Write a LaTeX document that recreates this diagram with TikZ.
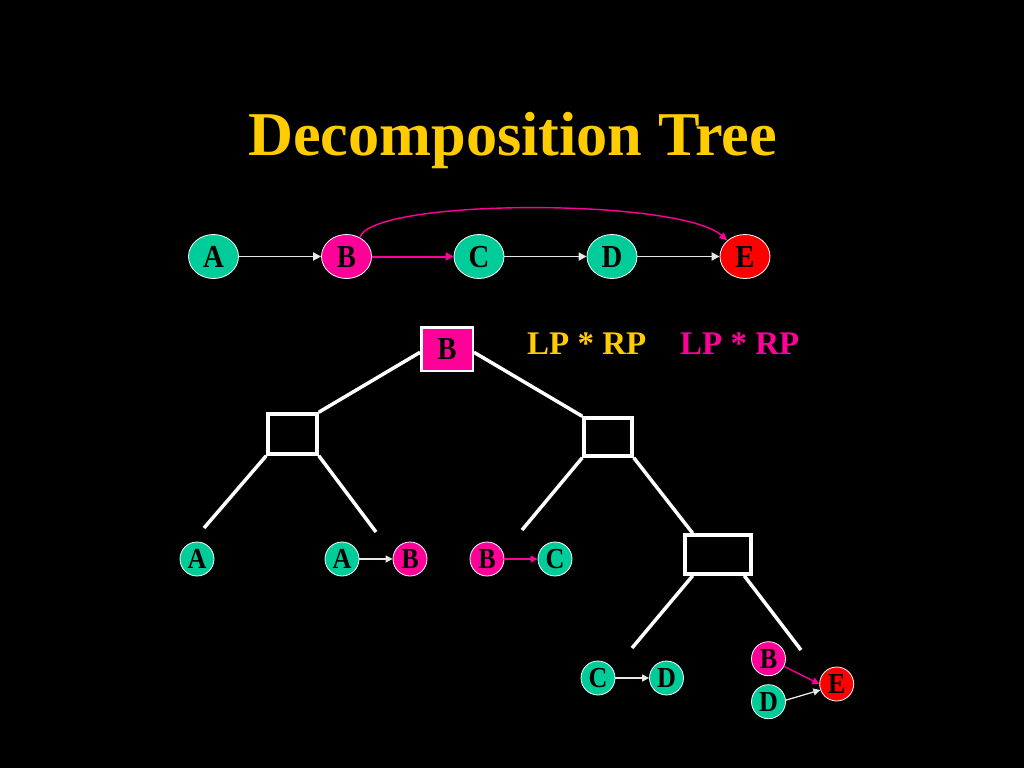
\documentclass[tikz,border=0pt]{standalone}
\usepackage{fontspec}
\setmainfont{Liberation Serif}
\newfontfamily\condserif[FakeStretch=0.9]{Liberation Serif}
\usetikzlibrary{shapes.geometric,arrows.meta}
\definecolor{tealc}{RGB}{0,204,153}
\definecolor{pinkc}{RGB}{255,0,153}
\definecolor{redc}{RGB}{255,0,0}
\definecolor{goldc}{RGB}{255,204,0}
\definecolor{linegray}{RGB}{232,232,232}
\begin{document}
\begin{tikzpicture}[x=1pt,y=-1pt,
  lettfont/.style={font=\condserif\fontsize{32}{32}\selectfont\bfseries, text=black, text height=21pt, text depth=0pt},
  leaffont/.style={font=\condserif\fontsize{29}{29}\selectfont\bfseries, text=black, text height=19pt, text depth=0pt},
  bignode/.style={ellipse, draw=white, line width=0.8pt, minimum width=50pt, minimum height=44pt, inner sep=0pt, lettfont},
  leafnode/.style={circle, draw=white, line width=0.8pt, minimum size=34pt, inner sep=0pt, leaffont},
  treebox/.style={draw=white, line width=3.5pt, fill=black, inner sep=0pt},
  treeline/.style={draw=white, line width=3.5pt},
  whitearrow/.style={draw=linegray, line width=1.8pt, -{Triangle[length=8pt,width=8pt]}},
  pinkarrow/.style={draw=pinkc, line width=2pt, -{Triangle[length=8pt,width=8pt]}},
  smallwhite/.style={draw=linegray, line width=1.3pt, -{Triangle[length=7pt,width=7pt]}},
  smallpink/.style={draw=pinkc, line width=1.3pt, -{Triangle[length=7pt,width=7pt]}}
]
\useasboundingbox[fill=black] (0,0) rectangle (1024,768);

% title
\node[anchor=base, inner sep=0pt, text=goldc, font=\fontsize{62.3}{63}\selectfont\bfseries] (title) at (512.5,155) {Decomposition Tree};

% top row
\node[bignode, fill=tealc] (tA) at (213.5,256.5) {A};
\node[bignode, fill=pinkc] (tB) at (346.5,256.5) {B};
\node[bignode, fill=tealc] (tC) at (479,256.5) {C};
\node[bignode, fill=tealc] (tD) at (612,256.5) {D};
\node[bignode, fill=redc] (tE) at (745,256.5) {E};
\draw[whitearrow] (tA.east) -- (tB.west);
\draw[pinkarrow] (tB.east) -- (tC.west);
\draw[whitearrow] (tC.east) -- (tD.west);
\draw[whitearrow] (tD.east) -- (tE.west);
\draw[pinkc, line width=1.4pt, -{Triangle[length=8pt,width=7pt]}] (tB.55) .. controls (372,198) and (680,198) .. (tE.138);

% labels
\node[anchor=base west, inner sep=0pt, text=goldc, font=\fontsize{33}{33}\selectfont\bfseries] (lp1) at (527,354) {LP * RP};
\node[anchor=base west, inner sep=0pt, text=pinkc, font=\fontsize{33}{33}\selectfont\bfseries] (lp2) at (680,354) {LP * RP};

% tree boxes
\node[draw=white, line width=2.5pt, fill=pinkc, minimum width=51.5pt, minimum height=43.5pt, inner sep=0pt, lettfont] (root) at (447,349) {B};
\node[treebox, minimum width=49pt, minimum height=40pt] (L) at (292.5,434) {};
\node[treebox, minimum width=48pt, minimum height=38pt] (R) at (608,437) {};
\node[treebox, minimum width=66pt, minimum height=39pt] (T) at (718,554.5) {};

\coordinate (l1) at (204,528);
\coordinate (l2) at (376,532);
\coordinate (r1) at (522,530);
\coordinate (t1) at (632,648);
\coordinate (t2) at (801,650);

\draw[treeline] (root.187) -- (L.north east);
\draw[treeline] (root.-7) -- (R.north west);
\draw[treeline] (L.south west) -- (l1);
\draw[treeline] (L.south east) -- (l2);
\draw[treeline] (R.south west) -- (r1);
\draw[treeline] (R.south east) -- (T.140);
\draw[treeline] (T.220) -- (t1);
\draw[treeline] (T.-39) -- (t2);

% leaves
\node[leafnode, fill=tealc] (a1) at (197,559) {A};
\node[leafnode, fill=tealc] (a2) at (342,559) {A};
\node[leafnode, fill=pinkc] (b2) at (410,559) {B};
\node[leafnode, fill=pinkc] (b3) at (487,559) {B};
\node[leafnode, fill=tealc] (c3) at (555,559) {C};
\draw[smallwhite] (a2.east) -- (b2.west);
\draw[smallpink] (b3.east) -- (c3.west);

\node[leafnode, fill=tealc] (c4) at (598,678) {C};
\node[leafnode, fill=tealc] (d4) at (666.5,678) {D};
\draw[smallwhite] (c4.east) -- (d4.west);

\node[leafnode, fill=pinkc] (b5) at (768.5,658.7) {B};
\node[leafnode, fill=tealc] (d5) at (768.5,701.7) {D};
\node[leafnode, fill=redc] (e5) at (836.7,684) {E};
\draw[smallpink] (b5.-26) -- (e5.180);
\draw[smallwhite] (d5.5) -- (e5.200);
\end{tikzpicture}
\end{document}
